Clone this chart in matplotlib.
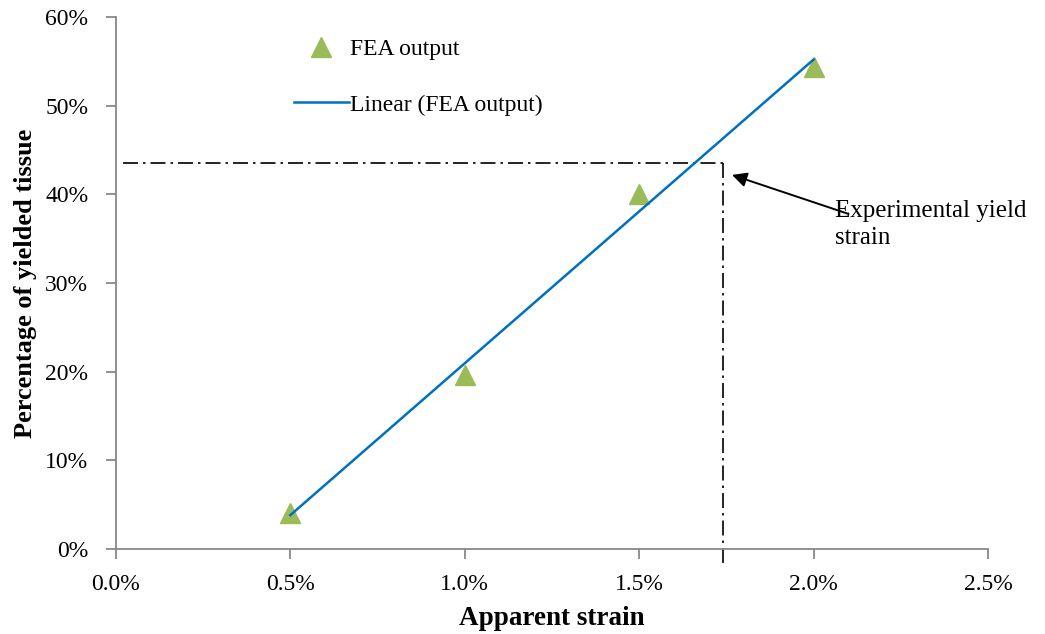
import numpy as np
import matplotlib
matplotlib.use("Agg")
import matplotlib.pyplot as plt
from matplotlib.ticker import PercentFormatter

plt.rcParams['font.family'] = ['Liberation Serif', 'DejaVu Serif']

# FEA output (apparent strain, fraction of yielded tissue)
strain = [0.005, 0.010, 0.015, 0.020]
yielded = [0.041, 0.196, 0.400, 0.544]
# experimental yield strain and corresponding yielded fraction
exp_strain = 0.0174
exp_yield = 0.435

fig = plt.figure(figsize=(10.45, 6.34), dpi=100)
ax = fig.add_axes([0.111, 0.134, 0.8345, 0.839])

ax.plot(strain, yielded, linestyle='none', marker='^', markersize=14,
        color='#9bbb59', label='FEA output', zorder=3)
k, b = np.polyfit(strain, yielded, 1)
xf = np.array([strain[0], strain[-1]])
ax.plot(xf, k * xf + b, color='#0070c0', lw=1.8, label='Linear (FEA output)', zorder=4)

dash = (9, 3, 1.5, 3)
ax.plot([0.0002, exp_strain], [exp_yield, exp_yield], color='black', lw=1.2,
        dashes=dash, clip_on=False)
ax.plot([exp_strain, exp_strain], [exp_yield, -0.016], color='black', lw=1.2,
        dashes=dash, clip_on=False)

ax.annotate('', xy=(0.01766, 0.422), xytext=(0.0210, 0.378),
            arrowprops=dict(arrowstyle='-|>', color='black', lw=1.4,
                            mutation_scale=22, shrinkA=0, shrinkB=0))
ax.text(0.0206, 0.366, 'Experimental yield\nstrain', fontsize=18, va='center',
        ha='left', linespacing=1.3)

ax.set_xlim(0, 0.025)
ax.set_ylim(0, 0.6)
ax.set_xticks(np.arange(0, 0.0251, 0.005))
ax.set_yticks(np.arange(0, 0.61, 0.1))
ax.xaxis.set_major_formatter(PercentFormatter(xmax=1, decimals=1))
ax.yaxis.set_major_formatter(PercentFormatter(xmax=1, decimals=0))

for s in ['top', 'right']:
    ax.spines[s].set_visible(False)
for s in ['left', 'bottom']:
    ax.spines[s].set_color('#888888')
    ax.spines[s].set_linewidth(1.3)
ax.tick_params(direction='out', length=7, width=1.3, color='#888888',
               labelsize=17)
ax.tick_params(axis='x', pad=11)
ax.tick_params(axis='y', pad=13)

ax.set_xlabel('Apparent strain', fontsize=19.5, fontweight='bold', labelpad=8)
ax.set_ylabel('Percentage of yielded tissue', fontsize=19, fontweight='bold', labelpad=6)

ax.legend(loc='upper left', bbox_to_anchor=(0.18, 1.0), frameon=False,
          fontsize=17, handlelength=2.3, labelspacing=1.45, handletextpad=0.05)

fig.savefig('out.png', dpi=100)
